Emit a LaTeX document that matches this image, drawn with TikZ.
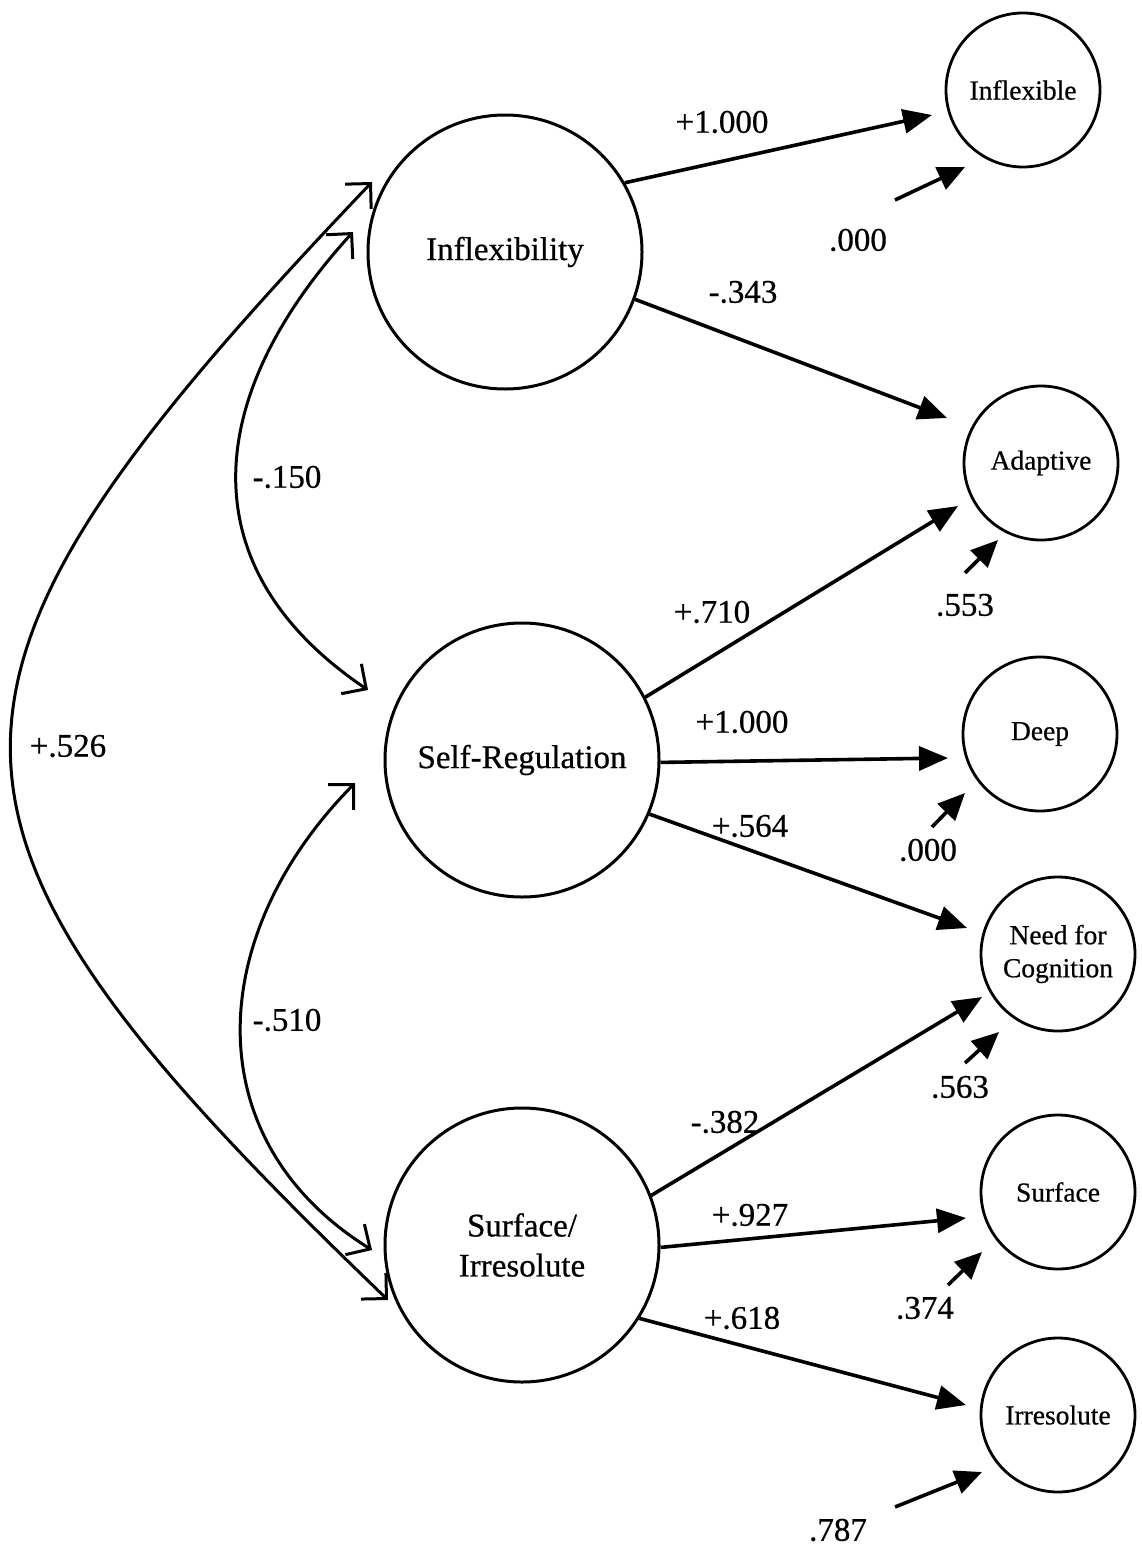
\documentclass[tikz,border=0pt]{standalone}
\usepackage{fontspec}
\setmainfont{Liberation Serif}[FakeBold=0.6]
\usetikzlibrary{arrows.meta,calc}
\begin{document}
\begin{tikzpicture}[x=1pt,y=1pt,
  latent/.style={circle,draw,line width=3pt,minimum size=274pt,inner sep=0pt,
    font=\fontsize{33}{40}\selectfont,align=center},
  indicator/.style={circle,draw,line width=2.8pt,minimum size=154pt,inner sep=0pt,
    font=\fontsize{27.5}{33}\selectfont,align=center},
  loading/.style={line width=3.6pt,-{Triangle[length=29pt,width=24pt]}},
  resid/.style={line width=3.6pt,-{Triangle[length=27pt,width=24pt]}},
  cov/.style={line width=3pt,
    {Straight Barb[length=18pt,width=36pt]}-{Straight Barb[length=18pt,width=36pt]}},
  coef/.style={font=\fontsize{33}{40}\selectfont,inner sep=0pt}]
\useasboundingbox (0,0) rectangle (1141,-1558);

% latent factors
\node[latent] (infl) at (505,-252) {Inflexibility};
\node[latent] (selfreg) at (522,-760) {Self-Regulation};
\node[latent] (surf) at (522,-1245) {Surface/\\Irresolute};

% observed scales
\node[indicator] (inflexible) at (1023,-90) {Inflexible};
\node[indicator] (adaptive) at (1041,-463) {Adaptive};
\node[indicator] (deep) at (1040,-734) {Deep};
\node[indicator] (need) at (1058,-954) {Need for\\Cognition};
\node[indicator] (surface) at (1058,-1192) {Surface};
\node[indicator] (irres) at (1058,-1415) {Irresolute};

% factor loadings
\draw[loading] (infl.30) -- ($(inflexible)+(-91,-25)$);
\draw[loading] (infl.-20) -- ($(adaptive)+(-94,45)$);
\draw[loading] (selfreg.27) -- ($(adaptive)+(-83,-43)$);
\draw[loading] (selfreg.-1) -- ($(deep)+(-92,-24)$);
\draw[loading] (selfreg.-23) -- ($(need)+(-91,26)$);
\draw[loading] (surf.21) -- ($(need)+(-76,-43)$);
\draw[loading] (surf.-1) -- ($(surface)+(-92,-26)$);
\draw[loading] (surf.-32) -- ($(irres)+(-92,10)$);

% residual terms
\draw[resid] ($(inflexible)+(-128,-110)$) -- ($(inflexible)+(-58,-77)$);
\draw[resid] ($(adaptive)+(-76,-110)$) -- ($(adaptive)+(-43,-77)$);
\draw[resid] ($(deep)+(-108,-93)$) -- ($(deep)+(-75,-59)$);
\draw[resid] ($(need)+(-93,-109)$) -- ($(need)+(-59,-78)$);
\draw[resid] ($(surface)+(-110,-93)$) -- ($(surface)+(-76,-60)$);
\draw[resid] ($(irres)+(-163,-92)$) -- ($(irres)+(-76,-57)$);

% factor correlations
\draw[cov] ($(infl)+(-152,20)$) .. controls (200,-400) and (190,-570) .. ($(selfreg)+(-154,70)$);
\draw[cov] ($(selfreg)+(-167,-23)$) .. controls (205,-935) and (195,-1140) .. ($(surf)+(-150,-5)$);
\draw[cov] ($(infl)+(-133,70)$) .. controls (-112,-690) and (-112,-820) .. ($(surf)+(-134,-55)$);

% coefficients
\node[coef] (c1) at (722,-122) {+1.000};
\node[coef] (c2) at (858,-240) {.000};
\node[coef] (c3) at (743,-292) {-.343};
\node[coef] (c4) at (287,-477) {-.150};
\node[coef] (c5) at (712,-612) {+.710};
\node[coef] (c6) at (965,-605) {.553};
\node[coef] (c7) at (742,-722) {+1.000};
\node[coef] (c8) at (68,-746) {+.526};
\node[coef] (c9) at (750,-826) {+.564};
\node[coef] (c10) at (928,-850) {.000};
\node[coef] (c11) at (287,-1020) {-.510};
\node[coef] (c12) at (960,-1087) {.563};
\node[coef] (c13) at (725,-1122) {-.382};
\node[coef] (c14) at (750,-1215) {+.927};
\node[coef] (c15) at (925,-1308) {.374};
\node[coef] (c16) at (742,-1318) {+.618};
\node[coef] (c17) at (838,-1530) {.787};
\end{tikzpicture}
\end{document}
